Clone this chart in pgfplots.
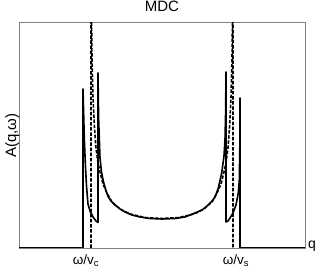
\documentclass[border=0pt]{standalone}
\usepackage{fontspec}
\setmainfont{Liberation Sans}
\usepackage{pgfplots}
\pgfplotsset{compat=1.18}
\definecolor{framegray}{rgb}{0.5,0.5,0.5}
\begin{document}
\begin{tikzpicture}
\begin{axis}[
  name=ax,
  scale only axis,
  width=286bp, height=225bp,
  xmin=19, xmax=305, ymin=0, ymax=225,
  axis line style={draw=framegray, line width=1bp},
  ytick=\empty,
  xtick={86,236},
  xticklabels={ω/v\textsubscript{c}, ω/v\textsubscript{s}},
  major tick length=0pt,
  xticklabel style={anchor=base, yshift=-16bp, font=\fontsize{13.5bp}{15bp}\selectfont},
  title={MDC},
  title style={at={(0.5,1)}, anchor=base, yshift=6bp, font=\fontsize{15bp}{17bp}\selectfont},
  clip=true,
]
\addplot[black, line width=1.6bp, line join=round] coordinates {
(19,0) (83,0) (83,159) (83.5,140) (84.3,110) (85.3,85) (86.5,62) (88,44) (90,37) (93,31) (96,27) (98,25.5)
(98,175) (98.6,130) (100,90) (101.5,76) (103.3,67) (106,57) (108.3,51) (111,47) (115,43) (120,39) (125,36)
(132,33) (140,31) (150,29.5) (162,29) (175,29.5) (185,31) (195,35) (202,38) (207,42) (212,47) (215,51)
(218.3,60) (221.7,75) (224,92) (225,108) (225.6,135) (226,176) (226,26) (228,27) (230,30) (233,35) (236,43)
(238.3,55) (239.3,68) (239.8,100) (240,150) (240,0) (305,0)
};
\addplot[black, line width=1.6bp, dash pattern=on 3.5bp off 1.6bp] coordinates {
(91,0) (91,240) (91.4,240) (92,190) (93,150) (94.5,120) (96,100) (98,85) (100,76) (103,64) (107,55) (112,46)
(120,39) (130,34) (145,30.5) (162,29.5) (179,30.5) (194,34) (204,39) (212,46) (217,55) (221,64) (224,76)
(226,85) (228,100) (229.5,120) (231,150) (232,190) (232.6,240) (233,240) (233,0)
};
\end{axis}
\node[rotate=90, anchor=base, font=\fontsize{15bp}{17bp}\selectfont] at ([xshift=-3bp]ax.west) {A(q,ω)};
\node[anchor=base west, font=\fontsize{14bp}{16bp}\selectfont, inner sep=0pt] at ([xshift=3bp]ax.south east) {q};
\pgfresetboundingbox
\useasboundingbox ([xshift=-19bp,yshift=-25bp]ax.south west) rectangle ([xshift=15bp,yshift=23bp]ax.north east);
\end{tikzpicture}
\end{document}
